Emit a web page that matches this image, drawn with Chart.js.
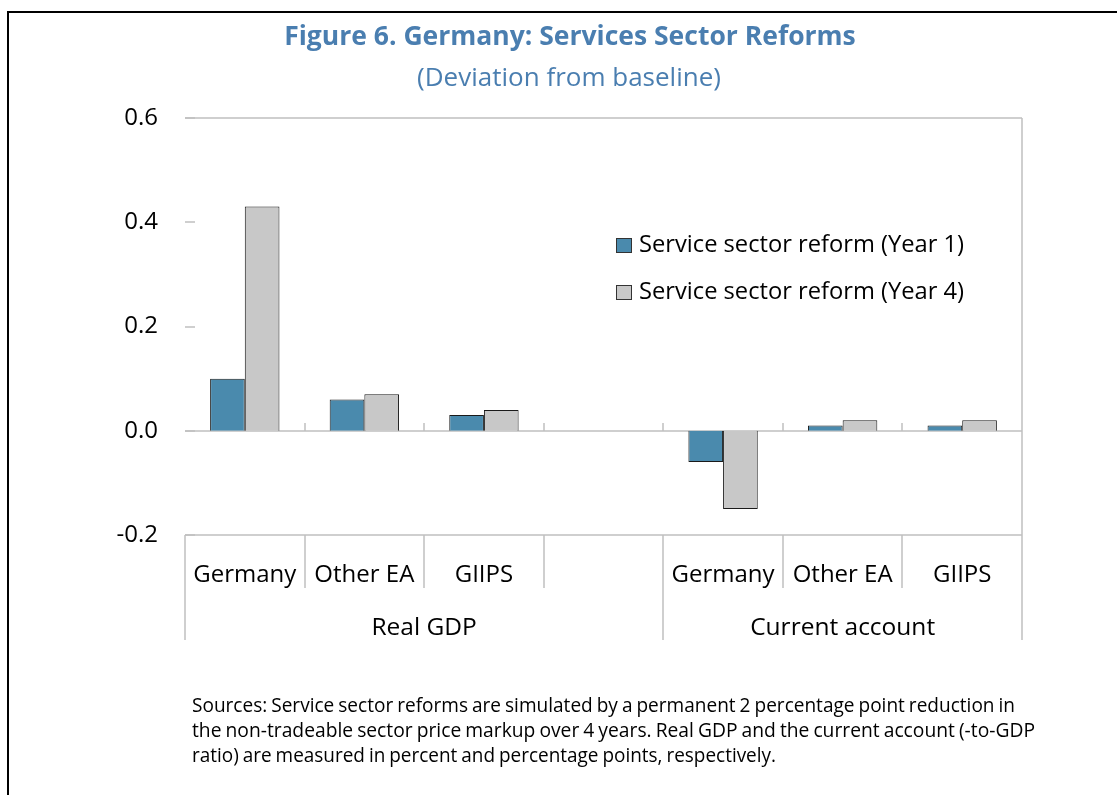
<!DOCTYPE html>
<html><head><meta charset="utf-8">
<script src="https://cdn.jsdelivr.net/npm/chart.js@4/dist/chart.umd.min.js"></script>
<style>
html,body{margin:0;padding:0;background:#fff;}
#wrap{position:relative;width:1117px;height:795px;overflow:hidden;background:#fff;}
#frame{position:absolute;left:7px;top:11px;width:1300px;height:900px;border-left:2px solid #000;border-top:2px solid #000;}
#c{position:absolute;left:0;top:0;}
#title{position:absolute;left:0;width:1140px;top:17px;text-align:center;font:bold 26.5px 'Open Sans',sans-serif;color:#4a7eb0;white-space:nowrap;line-height:36px;}
#sub{position:absolute;left:0;width:1138px;top:58px;text-align:center;font:26px 'Open Sans',sans-serif;color:#4a7eb0;white-space:nowrap;line-height:36px;}
#note{position:absolute;left:192px;top:692px;font:20px 'Open Sans',sans-serif;color:#000;line-height:25px;white-space:nowrap;}
#note div{transform-origin:0 50%;word-spacing:-1px;display:block;width:max-content;}
</style></head>
<body><div id="wrap">
<div id="frame"></div>
<canvas id="c" width="1117" height="795"></canvas>
<div id="title">Figure 6. Germany: Services Sector Reforms</div>
<div id="sub">(Deviation from baseline)</div>
<div id="note"><div>Sources: Service sector reforms are simulated by a permanent 2 percentage point reduction in</div><div>the non-tradeable sector price markup over 4 years. Real GDP and the current account (-to-GDP</div><div>ratio) are measured in percent and percentage points, respectively.</div></div>
</div>
<script>
const categories = ['Germany','Other EA','GIIPS','','Germany','Other EA','GIIPS'];
const groupNames = ['Real GDP','Current account'];
const groupStarts = [0,4];
const groupEnds = [3,6];
const seriesNames = ['Service sector reform (Year 1)','Service sector reform (Year 4)'];
const year1 = [0.10,0.06,0.03,null,-0.06,0.01,0.01];
const year4 = [0.43,0.07,0.04,null,-0.15,0.02,0.02];
const yTicks = [-0.2,0.0,0.2,0.4,0.6];

// fit footnote lines to the reference line lengths
const noteWidths = [823, 843, 584];
document.querySelectorAll('#note div').forEach((d,i)=>{
  const w=d.getBoundingClientRect().width;
  d.style.transform='scaleX('+(noteWidths[i]/w)+')';
});

const FONT = "'Open Sans', sans-serif";
const GRID = '#bfbfbf';

const deco = {
  id:'deco',
  beforeDatasetsDraw(chart){
    const {ctx, chartArea:a, scales:{x,y}} = chart;
    const L=Math.round(a.left), R=Math.round(a.right), T=Math.round(a.top), B=Math.round(a.bottom);
    ctx.save();
    ctx.strokeStyle=GRID; ctx.lineWidth=1.5;
    const line=(x1,y1,x2,y2)=>{ctx.beginPath();ctx.moveTo(x1,y1);ctx.lineTo(x2,y2);ctx.stroke();};
    line(L,T,R,T); line(R,T,R,B); line(L,B,R,B);
    yTicks.forEach(v=>{const py=Math.round(y.getPixelForValue(v)); line(L,py,L+10,py);});
    const z=Math.round(y.getPixelForValue(0));
    line(L,z,R,z);
    const n=categories.length, w=(a.right-a.left)/n;
    for(let i=0;i<=n;i++){
      const bx=Math.round(a.left+i*w);
      if(i>0 && i<n) line(bx,z-8,bx,z);
      const isGroup = i===0 || i===n || groupStarts.includes(i);
      line(bx,B,bx,B+(isGroup?105:53));
    }
    ctx.restore();
  },
  afterDraw(chart){
    const {ctx, chartArea:a} = chart;
    const n=categories.length, w=(a.right-a.left)/n;
    ctx.save();
    ctx.fillStyle='#000'; ctx.font="24.5px "+FONT; ctx.textAlign='center'; ctx.textBaseline='middle';
    groupNames.forEach((g,k)=>{
      const cx=a.left+(groupStarts[k]+groupEnds[k]+1)/2*w;
      ctx.fillText(g,cx,a.bottom+93);
    });
    // legend
    ctx.textAlign='left';
    ctx.font="23.7px "+FONT;
    chart.data.datasets.forEach((ds,k)=>{
      const cy=245+k*47;
      ctx.fillStyle=ds.backgroundColor; ctx.fillRect(616,cy-7,16,15);
      ctx.strokeStyle='#333'; ctx.lineWidth=1; ctx.strokeRect(616.5,cy-6.5,15,14);
      ctx.fillStyle='#000'; ctx.fillText(ds.label,639,cy);
    });
    ctx.restore();
  }
};

new Chart(document.getElementById('c'),{
  type:'bar',
  data:{labels:categories,datasets:[
    {label:seriesNames[0],data:year1,backgroundColor:'#4a8aad',borderColor:'#1a1a1a',borderWidth:1,categoryPercentage:0.58,barPercentage:1},
    {label:seriesNames[1],data:year4,backgroundColor:'#c8c8c8',borderColor:'#1a1a1a',borderWidth:1,categoryPercentage:0.58,barPercentage:1}
  ]},
  options:{
    responsive:false,animation:false,
    layout:{padding:{left:0,top:118,right:95,bottom:0}},
    plugins:{legend:{display:false},title:{display:false},tooltip:{enabled:false}},
    scales:{
      x:{grid:{display:false,drawTicks:false},border:{display:false},
         ticks:{font:{family:"'Open Sans', sans-serif",size:24},color:'#000',padding:26,maxRotation:0,autoSkip:false},
         afterFit(s){s.height=260;}},
      y:{min:-0.2,max:0.6,grid:{display:false,drawTicks:false},border:{display:false},
         afterBuildTicks(s){s.ticks=yTicks.map(v=>({value:v}));},
         ticks:{font:{family:"'Open Sans', sans-serif",size:24},color:'#000',padding:27,callback:v=>Number(v).toFixed(1)},
         afterFit(s){s.width=185;}}
    }
  },
  plugins:[deco]
});
</script>
</body></html>
